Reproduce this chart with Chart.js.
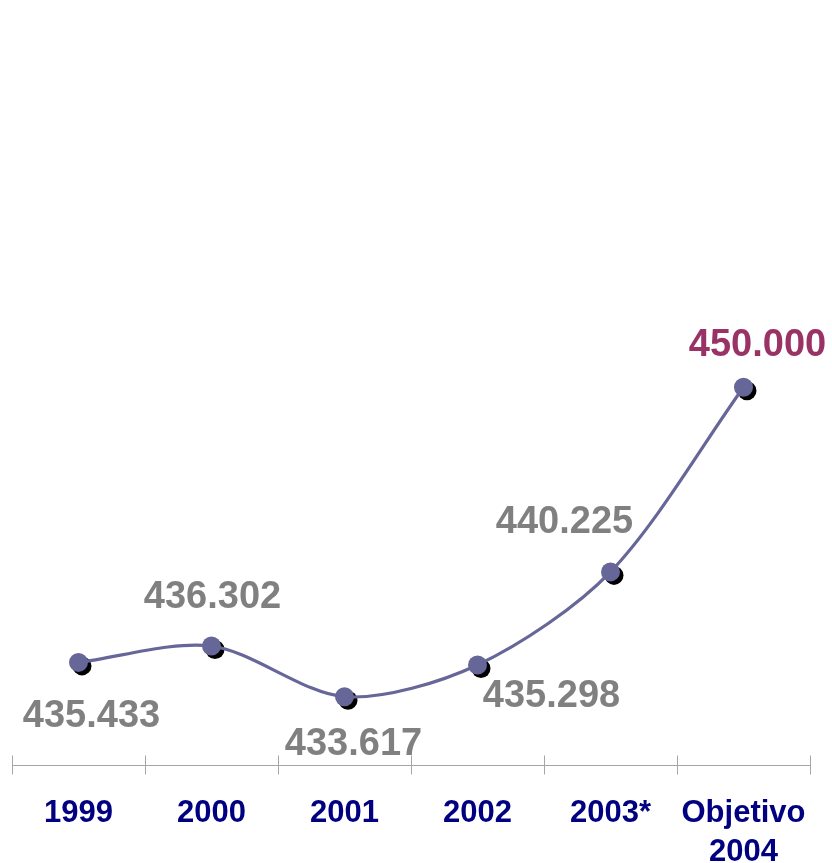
<!DOCTYPE html>
<html>
<head>
<meta charset="utf-8">
<script src="https://cdn.jsdelivr.net/npm/chart.js@4/dist/chart.umd.min.js"></script>
<style>
  html, body { margin: 0; padding: 0; background: #ffffff; }
  #wrap { width: 832px; height: 863px; position: relative; }
</style>
</head>
<body>
<div id="wrap"><canvas id="chart" width="832" height="863"></canvas></div>
<script>
// Categories shown along the horizontal axis
const categories = ['1999', '2000', '2001', '2002', '2003*', ['Objetivo', '2004']];
// Yearly totals (last one is the 2004 target)
const totals = [435433, 436302, 433617, 435298, 440225, 450000];
// Value range of the hidden vertical scale
const yRange = [430000, 470000];

const LINE = '#666699';
const FONT = '"Liberation Sans", Arial, Helvetica, sans-serif';

function fmt(v) {
  return String(v).replace(/\B(?=(\d{3})+(?!\d))/g, '.');
}

// Black drop shadow under each marker
const markerShadow = {
  id: 'markerShadow',
  beforeDatasetsDraw(chart) {
    const ctx = chart.ctx;
    const meta = chart.getDatasetMeta(0);
    ctx.save();
    ctx.fillStyle = '#000000';
    meta.data.forEach(p => {
      ctx.beginPath();
      ctx.arc(p.x + 3.5, p.y + 3.5, 9.5, 0, Math.PI * 2);
      ctx.fill();
    });
    ctx.restore();
  }
};

// Horizontal axis with short ticks at the category boundaries, plus the
// bold category names underneath
const baseAxis = {
  id: 'baseAxis',
  beforeDatasetsDraw(chart) {
    const ctx = chart.ctx;
    const x = chart.scales.x;
    const area = chart.chartArea;
    const y = Math.round(area.bottom) + 0.5;
    const labels = chart.data.labels;
    const n = labels.length;
    const half = (x.getPixelForValue(1) - x.getPixelForValue(0)) / 2;
    ctx.save();
    ctx.strokeStyle = '#a6a6a6';
    ctx.lineWidth = 1;
    ctx.beginPath();
    ctx.moveTo(area.left, y);
    ctx.lineTo(area.right, y);
    for (let i = 0; i <= n; i++) {
      const px = Math.round(i < n ? x.getPixelForValue(i) - half : x.getPixelForValue(n - 1) + half) + 0.5;
      ctx.moveTo(px, y - 10);
      ctx.lineTo(px, y + 9);
    }
    ctx.stroke();

    ctx.fillStyle = '#000080';
    ctx.font = 'bold 31px ' + FONT;
    ctx.textAlign = 'center';
    ctx.textBaseline = 'alphabetic';
    labels.forEach((lab, i) => {
      const lines = Array.isArray(lab) ? lab : [lab];
      const cx = x.getPixelForValue(i);
      lines.forEach((t, j) => {
        ctx.fillText(t, cx, area.bottom + 57 + j * 39);
      });
    });
    ctx.restore();
  }
};

// Value labels next to each point
const valueLabels = {
  id: 'valueLabels',
  afterDatasetsDraw(chart, args, opts) {
    const ctx = chart.ctx;
    const meta = chart.getDatasetMeta(0);
    const data = chart.data.datasets[0].data;
    ctx.save();
    ctx.font = 'bold 38px ' + FONT;
    ctx.textAlign = 'center';
    ctx.textBaseline = 'middle';
    meta.data.forEach((p, i) => {
      const off = opts.offsets[i];
      ctx.fillStyle = opts.colors[i];
      ctx.fillText(fmt(data[i]), p.x + off[0], p.y + off[1]);
    });
    ctx.restore();
  }
};

new Chart(document.getElementById('chart'), {
  type: 'line',
  data: {
    labels: categories,
    datasets: [{
      data: totals,
      borderColor: LINE,
      borderWidth: 3.2,
      tension: 0.3,
      pointRadius: 9.5,
      pointHoverRadius: 9.5,
      pointBackgroundColor: LINE,
      pointBorderColor: LINE,
      pointBorderWidth: 0,
      fill: false,
      clip: false
    }]
  },
  options: {
    responsive: false,
    animation: false,
    devicePixelRatio: 1,
    layout: { padding: { left: 12, right: 22, top: 8, bottom: 0 } },
    plugins: {
      legend: { display: false },
      tooltip: { enabled: false },
      valueLabels: {
        offsets: [[13, 54], [1, -48], [9, 48], [74, 32], [-46, -49], [14, -42]],
        colors: ['#808080', '#808080', '#808080', '#808080', '#808080', '#993366']
      }
    },
    scales: {
      x: {
        offset: true,
        border: { display: false },
        grid: { display: false, drawTicks: false },
        ticks: { display: false },
        afterFit(scale) { scale.height = 98; }
      },
      y: {
        display: false,
        min: yRange[0],
        max: yRange[1]
      }
    }
  },
  plugins: [markerShadow, baseAxis, valueLabels]
});
</script>
</body>
</html>
